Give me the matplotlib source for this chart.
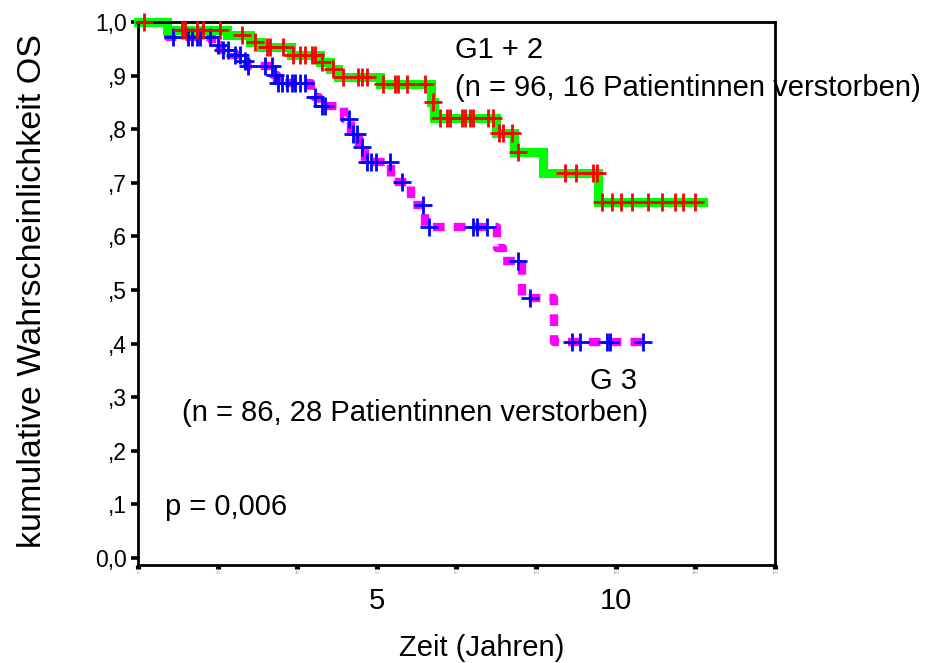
import matplotlib
matplotlib.use("Agg")
import matplotlib.pyplot as plt
import numpy as np

# Kaplan-Meier curves (time in months)
g12_times = [0, 7.3, 22.4, 28.1, 30.9, 38.4, 45.7, 48.2, 50.3, 60.8, 73.6, 74.4, 90.0, 94.5, 101.8, 115.6]
g12_surv = [1.0, 0.985, 0.976, 0.963, 0.954, 0.939, 0.926, 0.913, 0.898, 0.884, 0.85, 0.82, 0.793, 0.757, 0.718, 0.665]
g12_end = 142.0
g12_censored = [1.5, 11.0, 11.8, 14.8, 16.3, 20.6, 26.1, 29.4, 32.4, 33.2, 36.4, 38.9, 40.7, 42.0,
                43.7, 44.5, 46.2, 49.0, 51.5, 55.3, 56.3, 57.5, 61.6, 64.6, 65.3, 67.6, 72.1, 74.0,
                75.9, 77.6, 78.4, 81.4, 82.2, 83.4, 84.2, 87.9, 89.2, 90.6, 91.7, 94.0, 95.5,
                107.3, 110.0, 114.3, 115.3, 116.6, 119.1, 121.4, 124.1, 128.1, 131.7, 134.9, 136.9, 140.0]

g3_times = [0, 7.5, 18.6, 20.6, 23.6, 26.1, 27.4, 33.9, 34.9, 43.5, 44.2, 45.5, 51.8, 53.5, 55.5,
            57.0, 63.5, 68.5, 72.0, 90.2, 91.7, 96.5, 104.5]
g3_surv = [1.0, 0.972, 0.957, 0.948, 0.939, 0.928, 0.917, 0.902, 0.887, 0.874, 0.861, 0.843, 0.819,
           0.791, 0.767, 0.739, 0.702, 0.658, 0.617, 0.579, 0.555, 0.485, 0.403]
g3_end = 128.6
g3_censored = [8.8, 12.6, 13.6, 14.8, 15.6, 18.1, 20.1, 21.4, 22.6, 24.4, 25.6, 26.9, 27.6, 31.9,
               33.7, 34.4, 35.2, 36.2, 37.4, 38.7, 39.4, 40.7, 42.0, 44.5, 46.2, 47.0, 53.0, 54.0,
               55.0, 56.2, 57.5, 58.5, 59.8, 63.2, 66.3, 71.6, 73.1, 84.2, 85.2, 87.7, 95.5, 98.5,
               109.0, 111.0, 117.8, 118.6, 126.9]

x_ticks = [0, 20, 40, 60, 80, 100, 120, 140, 160]
y_ticks = [0.0, 0.1, 0.2, 0.3, 0.4, 0.5, 0.6, 0.7, 0.8, 0.9, 1.0]
y_ticklabels = ["0,0", ",1", ",2", ",3", ",4", ",5", ",6", ",7", ",8", ",9", "1,0"]
year_ticks = [60, 120]
year_labels = ["5", "10"]

W, H = 928, 663
plt.rcParams["font.family"] = ["Liberation Sans", "DejaVu Sans"]


def surv_at(times, surv, t):
    idx = np.searchsorted(np.asarray(times), np.asarray(t), side="right") - 1
    return np.asarray(surv)[idx]


def px(x, y):
    return x / W, 1 - y / H


fig = plt.figure(figsize=(W / 100, H / 100), dpi=100)
ax = fig.add_axes([138 / W, 1 - 565 / H, (775 - 138) / W, (565 - 22) / H])

# G1 + 2: thick green step line with red censor crosses
t = g12_times + [g12_end]
s = g12_surv + [g12_surv[-1]]
ax.plot(t, s, drawstyle="steps-post", color="#00ff00", lw=6.5, solid_joinstyle="miter",
        clip_on=False, zorder=2)
ax.plot(g12_censored, surv_at(g12_times, g12_surv, g12_censored), "+", color="#ff0000",
        ms=12.5, mew=2, clip_on=False, zorder=4)

# G3: thick dashed magenta step line with blue censor crosses
t = g3_times + [g3_end]
s = g3_surv + [g3_surv[-1]]
ax.plot(t, s, drawstyle="steps-post", color="#ff00ff", lw=6, dashes=(1.4, 1.1),
        clip_on=False, zorder=1)
ax.plot(g3_censored, surv_at(g3_times, g3_surv, g3_censored), "+", color="#0000ff",
        ms=12.5, mew=2, clip_on=False, zorder=3)

ax.set_xlim(0, 160)
ax.set_ylim(-0.013, 1.0)
for sp in ax.spines.values():
    sp.set_linewidth(2)
    sp.set_color("black")

ax.set_yticks(y_ticks)
ax.set_yticklabels(y_ticklabels, fontsize=16.5)
ax.tick_params(axis="y", direction="out", length=5, width=2.6, pad=3)
ax.set_xticks(x_ticks)
ax.set_xticklabels([str(v) for v in x_ticks], fontsize=3, color="#999999")
ax.tick_params(axis="x", direction="out", length=3, width=3.7, pad=1.5)

# year labels under the month axis
for yr, lab in zip(year_ticks, year_labels):
    xf = ax.transData.transform((yr, 0))[0] / W
    fig.text(xf, px(0, 601)[1], lab, fontsize=21, ha="center", va="center")

fig.text(*px(482, 648), "Zeit (Jahren)", fontsize=21, ha="center", va="center")
fig.text(*px(33, 291), "kumulative Wahrscheinlichkeit OS", fontsize=24.5, ha="center",
         va="center", rotation=90)

fig.text(*px(455, 50), "G1 + 2", fontsize=21, ha="left", va="center")
fig.text(*px(455, 88), "(n = 96, 16 Patientinnen verstorben)", fontsize=21, ha="left", va="center")
fig.text(*px(590, 381), "G 3", fontsize=21, ha="left", va="center")
fig.text(*px(182, 413), "(n = 86, 28 Patientinnen verstorben)", fontsize=21, ha="left", va="center")
fig.text(*px(165, 507), "p = 0,006", fontsize=21, ha="left", va="center")

fig.savefig("out.png", dpi=100)
